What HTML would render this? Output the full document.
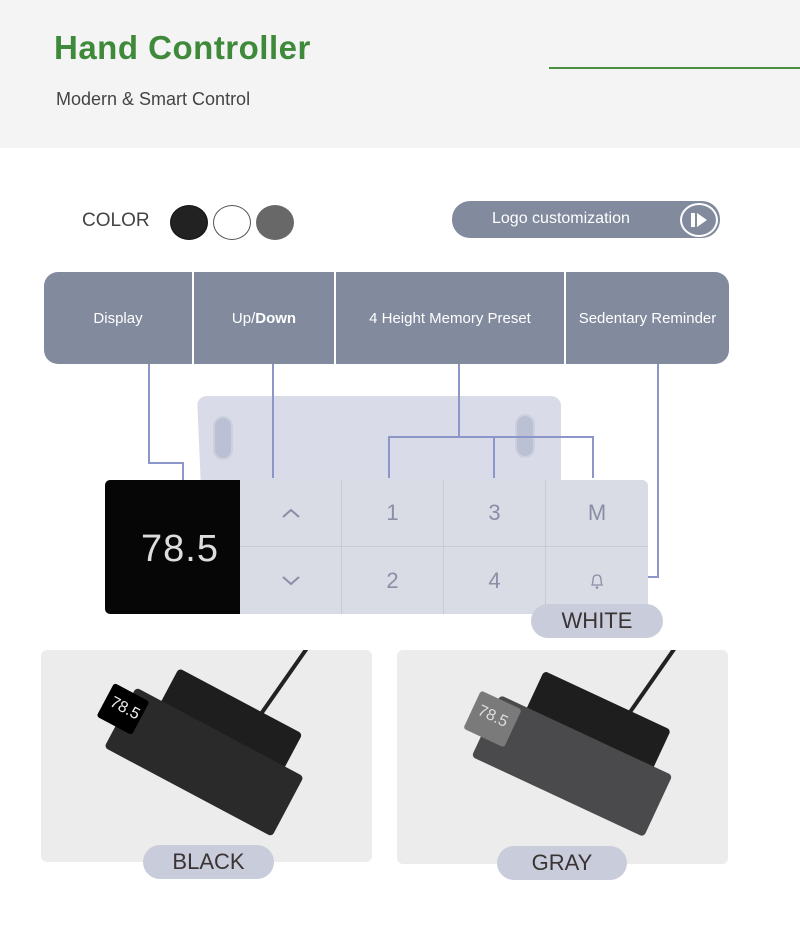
<!DOCTYPE html>
<html><head><meta charset="utf-8"><style>
*{margin:0;padding:0;box-sizing:border-box}
body{width:800px;height:946px;background:#fff;position:relative;overflow:hidden;font-family:"Liberation Sans",sans-serif}
.a{position:absolute}
.tab{position:absolute;top:272px;height:92px;background:#828a9e;color:#fff;font-size:15px;display:flex;align-items:center;justify-content:center}
.ln{position:absolute;background:#8c96c8}
.key{position:absolute;display:flex;align-items:center;justify-content:center;color:#8a8fa6;font-size:22px;border-right:1px solid #c8cad4;border-bottom:1px solid #c8cad4}
.pill{position:absolute;background:#c9ccda;border-radius:17px;color:#3a3434;font-size:22px;display:flex;align-items:center;justify-content:center;height:34px}
.ph{position:absolute;background:#ececec;border-radius:6px;overflow:hidden}
.ctl{position:absolute;border-radius:4px}
</style></head><body>
<div class="a" style="left:0;top:0;width:800px;height:148px;background:#f4f4f4"></div>
<div class="a" style="left:54px;top:29px;font-size:33px;font-weight:bold;color:#3e8a3a;letter-spacing:0.5px">Hand Controller</div>
<div class="a" style="left:549px;top:67px;width:251px;height:2px;background:#4a8e3e"></div>
<div class="a" style="left:56px;top:89px;font-size:18px;color:#444">Modern &amp; Smart Control</div>

<div class="a" style="left:82px;top:210px;font-size:19px;color:#444">COLOR</div>
<div class="a" style="left:170px;top:205px;width:38px;height:35px;border-radius:50%;background:#222;border:1px solid #111"></div>
<div class="a" style="left:213px;top:205px;width:38px;height:35px;border-radius:50%;background:#fff;border:1px solid #555"></div>
<div class="a" style="left:256px;top:205px;width:38px;height:35px;border-radius:50%;background:#686868"></div>

<div class="a" style="left:452px;top:201px;width:268px;height:37px;border-radius:18px;background:#828a9e"></div>
<div class="a" style="left:492px;top:210px;font-size:16px;color:#fff">Logo customization</div>
<div class="a" style="left:680px;top:203px;width:38px;height:34px;border-radius:50%;border:2px solid #fff"></div>
<div class="a" style="left:691px;top:213px;width:4px;height:14px;background:#fff"></div>
<div class="a" style="left:697px;top:213px;width:0;height:0;border-top:7px solid transparent;border-bottom:7px solid transparent;border-left:10px solid #fff"></div>

<div class="tab" style="left:44px;width:148px;border-radius:14px 0 0 14px">Display</div>
<div class="tab" style="left:194px;width:140px">Up/<b>Down</b></div>
<div class="tab" style="left:336px;width:228px">4 Height Memory Preset</div>
<div class="tab" style="left:566px;width:163px;border-radius:0 14px 14px 0">Sedentary Reminder</div>

<div class="a" style="left:197px;top:396px;width:364px;height:84px;background:#d9dce8;border-radius:10px 10px 0 0;clip-path:polygon(0 0,100% 0,101% 100%,1% 100%)"></div>
<div class="a" style="left:213px;top:416px;width:20px;height:44px;border-radius:10px;background:#bcc0d4;border:2px solid #cdd0de"></div>
<div class="a" style="left:515px;top:414px;width:20px;height:44px;border-radius:10px;background:#bcc0d4;border:2px solid #cdd0de"></div>

<div class="ln" style="left:148px;top:364px;width:2px;height:100px"></div>
<div class="ln" style="left:148px;top:462px;width:36px;height:2px"></div>
<div class="ln" style="left:182px;top:462px;width:2px;height:18px"></div>
<div class="ln" style="left:272px;top:364px;width:2px;height:114px"></div>
<div class="ln" style="left:458px;top:364px;width:2px;height:74px"></div>
<div class="ln" style="left:388px;top:436px;width:206px;height:2px"></div>
<div class="ln" style="left:388px;top:436px;width:2px;height:42px"></div>
<div class="ln" style="left:493px;top:436px;width:2px;height:42px"></div>
<div class="ln" style="left:592px;top:436px;width:2px;height:42px"></div>
<div class="ln" style="left:657px;top:364px;width:2px;height:214px"></div>
<div class="ln" style="left:648px;top:576px;width:11px;height:2px"></div>

<div class="a" style="left:105px;top:480px;width:543px;height:134px;background:#d9dbe5;border-radius:6px"></div>
<div class="a" style="left:105px;top:480px;width:135px;height:134px;background:#060606;border-radius:5px 0 0 5px"></div>
<div class="a" style="left:141px;top:528px;font-size:38px;color:#ddd;letter-spacing:1px">78.5</div>
<div class="key" style="left:240px;top:480px;width:102px;height:67px">
 <svg width="20" height="12"><polyline points="2,10 10,3 18,10" fill="none" stroke="#8a8fa6" stroke-width="2"/></svg></div>
<div class="key" style="left:240px;top:547px;width:102px;height:67px;border-bottom:0">
 <svg width="20" height="12"><polyline points="2,2 10,9 18,2" fill="none" stroke="#8a8fa6" stroke-width="2"/></svg></div>
<div class="key" style="left:342px;top:480px;width:102px;height:67px">1</div>
<div class="key" style="left:342px;top:547px;width:102px;height:67px;border-bottom:0">2</div>
<div class="key" style="left:444px;top:480px;width:102px;height:67px">3</div>
<div class="key" style="left:444px;top:547px;width:102px;height:67px;border-bottom:0">4</div>
<div class="key" style="left:546px;top:480px;width:102px;height:67px;border-right:0">M</div>
<div class="key" style="left:546px;top:547px;width:102px;height:67px;border:0">
 <svg width="16" height="18"><path d="M3,13 Q4,11 4,8 Q4,3 8,3 Q12,3 12,8 Q12,11 13,13 Z" fill="none" stroke="#8a8fa6" stroke-width="1.3"/><circle cx="8" cy="15.5" r="1.3" fill="#8a8fa6"/></svg></div>
<div class="pill" style="left:531px;top:604px;width:132px">WHITE</div>

<div class="ph" style="left:41px;top:650px;width:331px;height:212px">
 <div class="a" style="left:240px;top:-10px;width:4px;height:85px;background:#222;transform:rotate(35deg)"></div>
 <div class="a" style="left:118px;top:48px;width:140px;height:50px;background:#1e1e1e;transform:rotate(28deg);border-radius:4px"></div>
 <div class="ctl" style="left:68px;top:78px;width:190px;height:68px;background:#2a2a2a;transform:rotate(28deg)"></div>
 <div class="a" style="left:62px;top:40px;width:40px;height:38px;background:#000;transform:rotate(28deg);border-radius:3px"></div>
 <div class="a" style="left:68px;top:50px;font-size:16px;color:#eee;transform:rotate(28deg)">78.5</div>
</div>
<div class="ph" style="left:397px;top:650px;width:331px;height:214px">
 <div class="a" style="left:250px;top:-10px;width:4px;height:90px;background:#222;transform:rotate(35deg)"></div>
 <div class="a" style="left:130px;top:48px;width:140px;height:50px;background:#1e1e1e;transform:rotate(25deg);border-radius:4px"></div>
 <div class="ctl" style="left:80px;top:82px;width:190px;height:68px;background:#4a4a4c;transform:rotate(25deg)"></div>
 <div class="a" style="left:73px;top:48px;width:45px;height:42px;background:#7a7a7a;transform:rotate(25deg);border-radius:3px"></div>
 <div class="a" style="left:80px;top:58px;font-size:16px;color:#ddd;transform:rotate(25deg)">78.5</div>
</div>
<div class="pill" style="left:143px;top:845px;width:131px">BLACK</div>
<div class="pill" style="left:497px;top:846px;width:130px">GRAY</div>
</body></html>
